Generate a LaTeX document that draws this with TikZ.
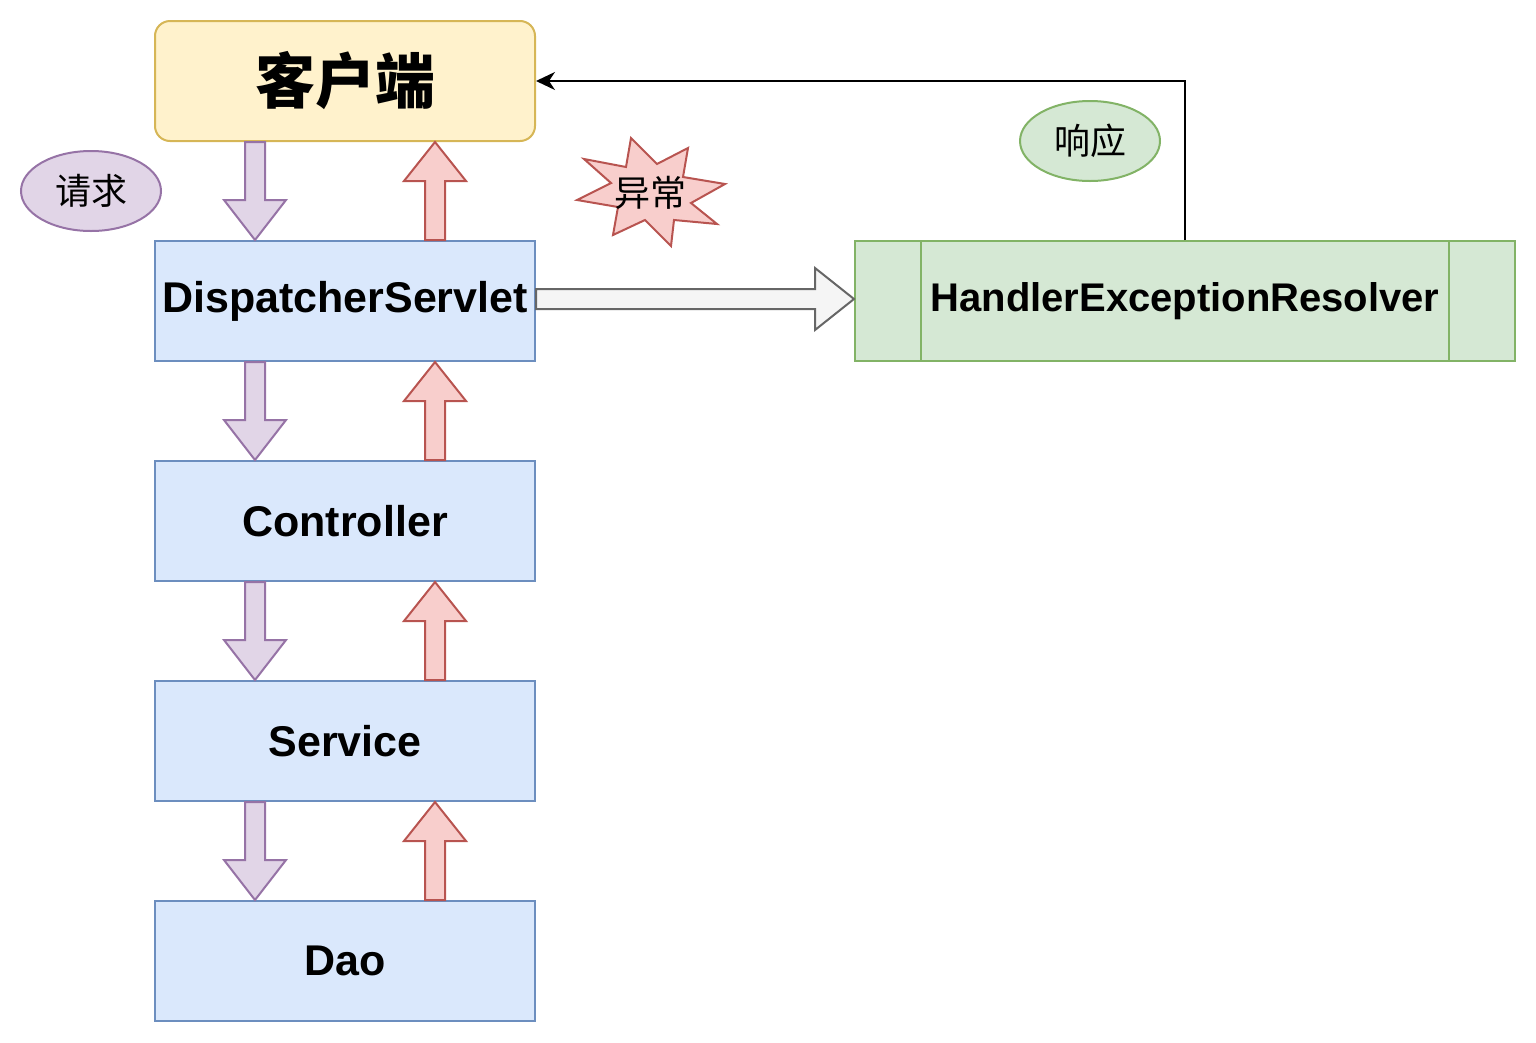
\documentclass[tikz,border=0pt]{standalone}
\usepackage{fontspec}
\setmainfont{Liberation Sans}
\newfontfamily\cjk{Noto Sans CJK SC}
\usetikzlibrary{calc,arrows.meta,shapes.geometric}
\definecolor{ylwF}{HTML}{FFF2CC}\definecolor{ylwD}{HTML}{D6B656}
\definecolor{bluF}{HTML}{DAE8FC}\definecolor{bluD}{HTML}{6C8EBF}
\definecolor{grnF}{HTML}{D5E8D4}\definecolor{grnD}{HTML}{82B366}
\definecolor{purF}{HTML}{E1D5E7}\definecolor{purD}{HTML}{9673A6}
\definecolor{redF}{HTML}{F8CECC}\definecolor{redD}{HTML}{B85450}
\definecolor{gryF}{HTML}{F5F5F5}\definecolor{gryD}{HTML}{666666}
\tikzset{
  layer/.style={draw=bluD,fill=bluF,line width=2pt,minimum width=380pt,minimum height=120pt,inner sep=0pt,
    font=\fontsize{43}{50}\selectfont\bfseries},
  reqarrow/.style={draw=purD,fill=purF,line width=2pt,line join=miter},
  resarrow/.style={draw=redD,fill=redF,line width=2pt,line join=miter},
  excarrow/.style={draw=gryD,fill=gryF,line width=2pt,line join=miter},
  tagell/.style={ellipse,minimum width=140pt,minimum height=80pt,inner sep=0pt,line width=2pt,
    font=\cjk\fontsize{36}{40}\selectfont},
}
\newcommand\blkdown[3]{%
  \draw[reqarrow] let \p1=(#2.south), \p2=(#3.north) in
    ({#1-10},\y1) -- ({#1+10},\y1) -- ({#1+10},\y2+40pt) -- ({#1+31},\y2+40pt) -- (#1,\y2)
    -- ({#1-31},\y2+40pt) -- ({#1-10},\y2+40pt) -- cycle;}
\newcommand\blkup[3]{%
  \draw[resarrow] let \p1=(#2.north), \p2=(#3.south) in
    ({#1-10},\y1) -- ({#1+10},\y1) -- ({#1+10},\y2-39pt) -- ({#1+31},\y2-39pt) -- (#1,\y2)
    -- ({#1-31},\y2-39pt) -- ({#1-10},\y2-39pt) -- cycle;}
\begin{document}
\begin{tikzpicture}[x=1pt,y=-1pt]
\useasboundingbox (0,0) rectangle (1536,1042);
% boxes
\node[draw=ylwD,fill=ylwF,line width=2pt,rounded corners=15pt,minimum width=380pt,minimum height=120pt,inner sep=0pt,
  font=\cjk\fontsize{60}{66}\selectfont\bfseries] (client) at (345,81) {客户端};
\node[layer] (ds) at (345,301) {DispatcherServlet};
\node[layer] (ctrl) at (345,521) {Controller};
\node[layer] (svc) at (345,741) {Service};
\node[layer] (dao) at (345,961) {Dao};
\node[draw=grnD,fill=grnF,line width=2pt,minimum width=660pt,minimum height=120pt,inner sep=0pt,
  font=\fontsize{40}{46}\selectfont\bfseries] (her) at (1185,301) {HandlerExceptionResolver};
\draw[grnD,line width=2pt] ($(her.north west)+(67,0)$) -- ($(her.south west)+(67,0)$);
\draw[grnD,line width=2pt] ($(her.north east)+(-67,0)$) -- ($(her.south east)+(-67,0)$);
% request arrows
\blkdown{255}{client}{ds}
\blkdown{255}{ds}{ctrl}
\blkdown{255}{ctrl}{svc}
\blkdown{255}{svc}{dao}
% response arrows
\blkup{435}{ds}{client}
\blkup{435}{ctrl}{ds}
\blkup{435}{svc}{ctrl}
\blkup{435}{dao}{svc}
% exception arrow
\draw[excarrow] let \p1=(ds.east), \p2=(her.west) in
  (\x1,{299-10}) -- (\x2-39pt,{299-10}) -- (\x2-39pt,{299-31}) -- (\x2,299) -- (\x2-39pt,{299+31})
  -- (\x2-39pt,{299+10}) -- (\x1,{299+10}) -- cycle;
% response line
\draw[line width=2pt,-{Stealth[length=19pt,width=18pt,inset=6pt]}] (her.north) |- (client.east);
% labels
\node[tagell,draw=purD,fill=purF] (req) at (91,191) {请求};
\node[tagell,draw=grnD,fill=grnF] (resp) at (1090,141) {响应};
% explosion
\draw[draw=redD,fill=redF,line width=2pt,line join=miter]
  (631,138) -- (657,164) -- (688,148) -- (683,177) -- (725,184) -- (691,203) -- (717,224) -- (674,220)
  -- (671,246) -- (645,220) -- (613,235) -- (618,207) -- (577,200) -- (611,183) -- (584,159) -- (626,167) -- cycle;
\node[font=\cjk\fontsize{36}{40}\selectfont] (exc) at (650,193) {异常};
\end{tikzpicture}
\end{document}
